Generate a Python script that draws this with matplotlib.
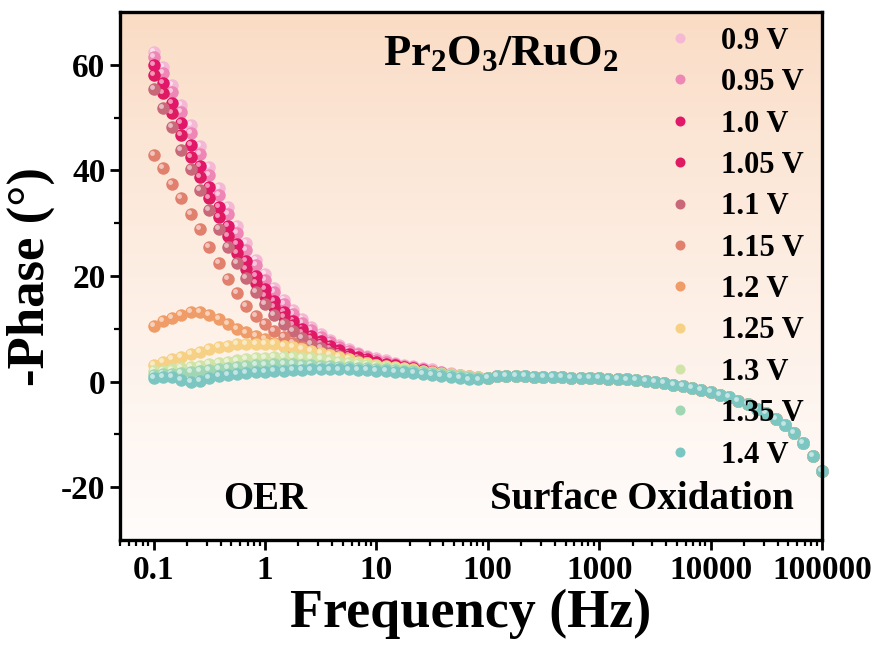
import numpy as np
import matplotlib
matplotlib.use("Agg")
import matplotlib.pyplot as plt
from matplotlib.colors import to_rgb
from matplotlib.transforms import offset_copy

plt.rcParams["font.family"] = "Liberation Serif"
plt.rcParams["font.weight"] = "bold"
plt.rcParams["axes.unicode_minus"] = False
plt.rcParams["mathtext.fontset"] = "custom"
plt.rcParams["mathtext.rm"] = "Liberation Serif:bold"
plt.rcParams["mathtext.bf"] = "Liberation Serif:bold"

# measurement grid: 12 points per decade, 0.1 Hz .. 100 kHz
freq = np.logspace(-1, 5, 73)

labels = ["0.9 V", "0.95 V", "1.0 V", "1.05 V", "1.1 V", "1.15 V",
          "1.2 V", "1.25 V", "1.3 V", "1.35 V", "1.4 V"]
colors = ["#F4B8D4", "#EE86B6", "#E2176A", "#DE1A62", "#C86878", "#E2806E",
          "#EF9C68", "#F6D084", "#CFE4A6", "#A0D6B4", "#7CC6C2"]

# low-frequency part (0.1 Hz .. ~80 Hz), one list per potential
head_09 = [62.5, 59.6, 56.2, 52.4, 48.6, 44.6, 40.6, 36.7, 33.0, 29.5, 26.2, 23.1,
           20.3, 17.8, 15.5, 13.5, 11.8, 10.3, 9.0, 7.9, 7.0, 6.2, 5.5, 4.9,
           4.4, 4.0, 3.6, 3.2, 2.9, 2.6, 2.3, 1.9, 1.6, 1.3, 1.0, 0.8]
head_095 = [61.5, 58.4, 54.9, 51.1, 47.0, 43.1, 39.1, 35.3, 31.7, 28.2, 25.0, 22.0,
            19.3, 16.9, 14.7, 12.8, 11.1, 9.7, 8.5, 7.5, 6.6, 5.8, 5.2, 4.6,
            4.1, 3.7, 3.4, 3.0, 2.7, 2.4, 2.1, 1.8, 1.5, 1.2, 1.0, 0.8]
head_10 = [60.0, 56.5, 52.7, 48.9, 44.8, 40.8, 36.8, 33.0, 29.4, 26.0, 22.9, 20.0,
           17.5, 15.2, 13.2, 11.5, 10.0, 8.7, 7.6, 6.7, 5.9, 5.2, 4.7, 4.2,
           3.8, 3.4, 3.1, 2.8, 2.5, 2.2, 1.9, 1.6, 1.3, 1.1, 0.9, 0.7]
head_105 = [58.0, 54.6, 50.8, 46.7, 42.6, 38.7, 34.8, 31.1, 27.6, 24.4, 21.4, 18.7,
            16.3, 14.2, 12.3, 10.7, 9.3, 8.1, 7.1, 6.2, 5.5, 4.9, 4.4, 3.9,
            3.5, 3.2, 2.9, 2.6, 2.3, 2.0, 1.8, 1.5, 1.2, 1.0, 0.8, 0.6]
head_11 = [55.5, 51.8, 48.3, 43.9, 40.2, 36.3, 32.5, 28.9, 25.5, 22.4, 19.6, 17.0,
           14.7, 12.7, 11.0, 9.5, 8.2, 7.2, 6.3, 5.5, 4.9, 4.3, 3.9, 3.5,
           3.1, 2.8, 2.6, 2.3, 2.1, 1.9, 1.7, 1.4, 1.2, 1.0, 0.8, 0.6]
head_115 = [43.0, 40.4, 37.5, 34.7, 31.7, 28.9, 25.5, 22.5, 19.4, 16.8, 14.3, 12.4,
            10.9, 9.6, 8.4, 7.4, 6.5, 5.8, 5.1, 4.6, 4.1, 3.7, 3.3, 3.0,
            2.7, 2.5, 2.3, 2.1, 1.9, 1.7, 1.5, 1.3, 1.1, 0.9, 0.7, 0.6]
head_12 = [10.6, 11.4, 12.1, 12.6, 13.1, 13.1, 12.6, 11.8, 10.9, 10.0, 9.3, 8.7,
           8.0, 7.4, 6.8, 6.2, 5.6, 5.1, 4.6, 4.2, 3.8, 3.5, 3.2, 2.9,
           2.7, 2.5, 2.3, 2.1, 1.9, 1.7, 1.5, 1.3, 1.1, 0.9, 0.7, 0.6]
head_125 = [3.2, 3.8, 4.3, 4.7, 5.3, 5.7, 6.2, 6.5, 6.8, 7.1, 7.1, 7.2,
            7.1, 7.1, 6.8, 6.5, 6.2, 5.8, 5.4, 5.0, 4.6, 4.2, 3.8, 3.5,
            3.2, 2.9, 2.7, 2.5, 2.3, 2.1, 1.9, 1.7, 1.5, 1.3, 1.1, 0.9]
head_13 = [2.0, 2.1, 2.3, 2.5, 2.8, 3.0, 3.3, 3.5, 3.8, 4.0, 4.2, 4.4,
           4.5, 4.6, 4.6, 4.6, 4.5, 4.4, 4.2, 4.0, 3.8, 3.6, 3.3, 3.1,
           2.9, 2.7, 2.5, 2.3, 2.1, 1.9, 1.7, 1.5, 1.3, 1.1, 0.9, 0.7]
head_135 = [1.3, 1.4, 1.5, 1.6, 1.8, 2.0, 2.2, 2.4, 2.6, 2.8, 3.0, 3.1,
            3.2, 3.3, 3.3, 3.3, 3.2, 3.1, 3.0, 2.9, 2.8, 2.7, 2.6, 2.5,
            2.4, 2.3, 2.2, 2.1, 2.0, 1.8, 1.6, 1.4, 1.2, 1.0, 0.8, 0.6]
head_14 = [0.6, 0.9, 0.8, 0.3, 0.0, 0.2, 0.6, 1.0, 1.3, 1.5, 1.6, 1.8,
           1.9, 2.0, 2.1, 2.2, 2.2, 2.3, 2.3, 2.3, 2.3, 2.3, 2.2, 2.2,
           2.1, 2.0, 1.9, 1.8, 1.7, 1.5, 1.3, 1.1, 0.9, 0.6, 0.4, 0.4]

# high-frequency part (100 Hz .. 100 kHz), shared by all potentials
tail = [0.7, 1.1, 1.1, 1.0, 1.0, 0.9, 0.9, 0.8, 0.8, 0.7, 0.7, 0.6,
        0.6, 0.5, 0.5, 0.4, 0.3, 0.1, -0.1, -0.3, -0.6, -0.9, -1.2, -1.6,
        -2.0, -2.5, -3.0, -3.6, -4.3, -5.1, -6.0, -7.1, -8.3, -9.8, -11.6, -14.0,
        -17.0]

heads = [head_09, head_095, head_10, head_105, head_11, head_115,
         head_12, head_125, head_13, head_135, head_14]

fig = plt.figure(figsize=(8.78, 6.47), dpi=100)
ax = fig.add_axes([120 / 878, 1 - 540 / 647, 702 / 878, 528 / 647])

# peach (top) -> white (bottom) background gradient
top = np.array(to_rgb("#FADBC3"))
bottom = np.array(to_rgb("#FFFCFB"))
t = np.linspace(0, 1, 256) ** 0.8
grad = top[None, :] * (1 - t[:, None]) + bottom[None, :] * t[:, None]
ax.imshow(grad[:, None, :], extent=[0, 1, 0, 1], transform=ax.transAxes,
          aspect="auto", zorder=0)

hl = offset_copy(ax.transData, fig=fig, x=-1.4, y=1.4, units="points")
for i, (lab, col, head) in enumerate(zip(labels, colors, heads)):
    phase = np.array(head + tail)
    ax.plot(freq, phase, "o", ls="none", ms=9, color=col, mec=col, mew=0,
            label=lab, zorder=2 + i, clip_on=False)
    ax.plot(freq, phase, "o", ls="none", ms=3.5, color="white", mew=0,
            alpha=0.55, transform=hl, zorder=2 + i, clip_on=False)

ax.set_xscale("log")
ax.set_xlim(0.05, 1e5)
ax.set_ylim(-30, 70)
ax.set_xticks([0.1, 1, 10, 100, 1000, 10000, 100000])
ax.set_xticklabels(["0.1", "1", "10", "100", "1000", "10000", "100000"])
ax.set_yticks([-20, 0, 20, 40, 60])
ax.set_yticks([-10, 10, 30, 50], minor=True)

for s in ax.spines.values():
    s.set_linewidth(2.4)
    s.set_zorder(20)
ax.tick_params(which="major", direction="out", length=7, width=2,
               labelsize=24, top=False, right=False)
ax.tick_params(which="minor", direction="out", length=4, width=1.6,
               top=False, right=False)

ax.set_xlabel("Frequency (Hz)", fontsize=39, fontweight="bold", labelpad=2)
ax.set_ylabel("-Phase (°)", fontsize=38, fontweight="bold", labelpad=4)

ax.text(0.543, 0.92, r"$\mathbf{Pr_2O_3/RuO_2}$", transform=ax.transAxes,
        fontsize=32, ha="center", va="center", zorder=30)
ax.text(0.2066, 0.076, "OER", transform=ax.transAxes, fontsize=28,
        ha="center", va="center", zorder=30)
ax.text(0.744, 0.076, "Surface Oxidation", transform=ax.transAxes,
        fontsize=28, ha="center", va="center", zorder=30)

leg = ax.legend(loc="upper left", bbox_to_anchor=(0.7806, 0.972), frameon=False,
                fontsize=22, handlelength=0.8, handletextpad=0.95,
                labelspacing=0.405, borderaxespad=0, borderpad=0,
                markerscale=0.8)
leg.set_zorder(30)

fig.savefig("out.png", dpi=100)
